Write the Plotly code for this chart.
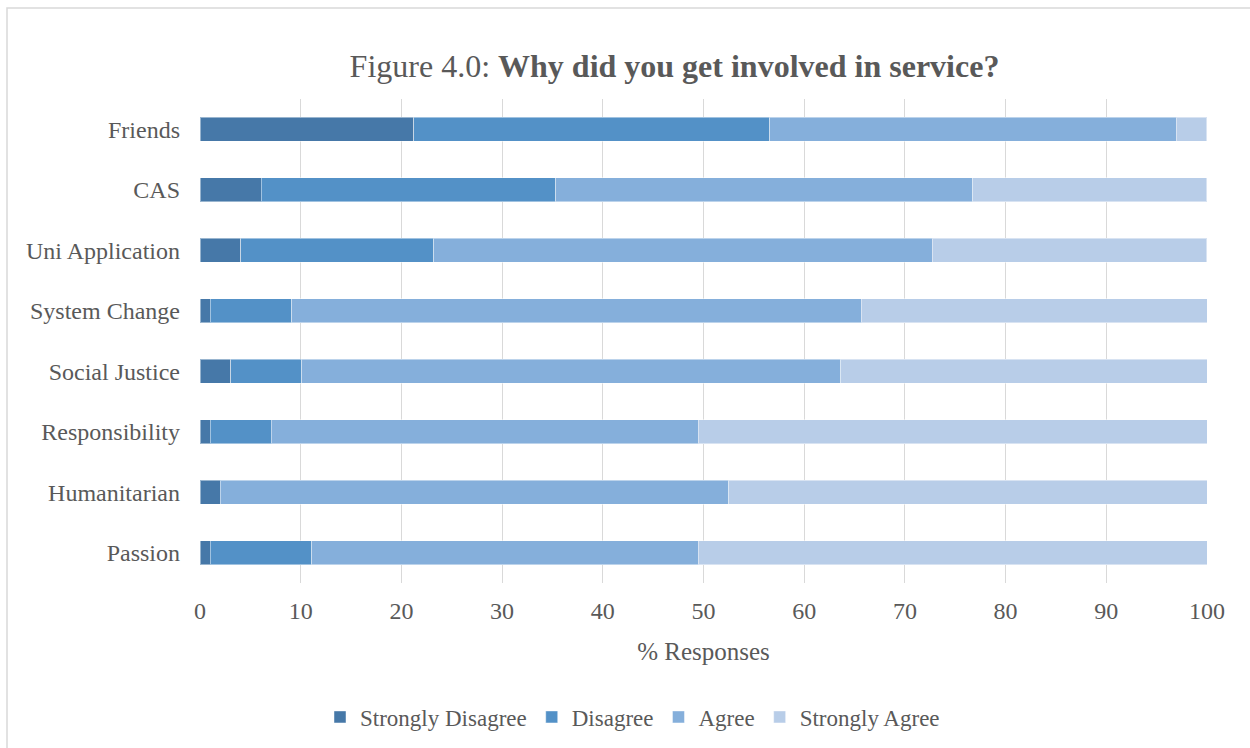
import plotly.graph_objects as go

# Survey reasons, listed top to bottom as drawn
categories = ["Friends", "CAS", "Uni Application", "System Change",
              "Social Justice", "Responsibility", "Humanitarian", "Passion"]

# Percentage of responses per answer level
strongly_disagree = [21.21, 6.06, 4.04, 1.01, 3.03, 1.01, 2.02, 1.01]
disagree = [35.35, 29.29, 19.19, 8.08, 7.07, 6.06, 0.00, 10.10]
agree = [40.40, 41.41, 49.49, 56.57, 53.54, 42.42, 50.51, 38.38]
strongly_agree = [3.03, 23.23, 27.27, 34.34, 36.36, 50.51, 47.47, 50.51]

series_names = ["Strongly Disagree", "Disagree", "Agree", "Strongly Agree"]
series_values = [strongly_disagree, disagree, agree, strongly_agree]
series_colors = ["#4678A8", "#5391C7", "#85AFDB", "#B8CDE8"]

x_ticks = [0, 10, 20, 30, 40, 50, 60, 70, 80, 90, 100]

FONT = "Liberation Serif, Times New Roman, serif"
TEXT = "#595959"
GRID = "#D9D9D9"

W, H = 1250, 748
L, R, T, B = 200, 43, 99, 165

fig = go.Figure()
for name, vals, col in zip(series_names, series_values, series_colors):
    fig.add_trace(go.Bar(
        y=categories, x=vals, name=name, orientation="h",
        marker=dict(color=col, line=dict(color="rgba(255,255,255,0.45)", width=1)),
    ))

pw, ph = W - L - R, H - T - B
# outer chart-area frame (runs off the right and bottom edges)
fig.add_shape(type="rect", xref="paper", yref="paper",
              x0=(7 - L) / pw, x1=(W + 12 - L) / pw,
              y0=(H - (H + 12) - B) / ph, y1=(H - 8 - B) / ph,
              line=dict(color=GRID, width=1.5), fillcolor="rgba(0,0,0,0)",
              layer="below")

fig.update_layout(
    width=W, height=H,
    margin=dict(l=L, r=R, t=T, b=B),
    paper_bgcolor="white", plot_bgcolor="white",
    barmode="stack", bargap=0.6,
    font=dict(family=FONT, color=TEXT, size=24),
    title=dict(
        text="Figure 4.0: <b>Why did you get involved in service?</b>",
        font=dict(family=FONT, size=32, color=TEXT),
        xref="container", x=674.5 / W, xanchor="center",
        yref="container", y=1 - 66 / H, yanchor="middle",
    ),
    xaxis=dict(
        range=[0, 100], tickvals=x_ticks, showgrid=True, gridcolor=GRID,
        gridwidth=1.3, zeroline=False, showline=False, ticks="",
        tickfont=dict(size=24, color=TEXT), ticklabelstandoff=11,
        title=dict(text="% Responses", font=dict(size=25, color=TEXT), standoff=19),
        fixedrange=True,
    ),
    yaxis=dict(
        autorange="reversed", showgrid=False, zeroline=False, showline=False,
        ticks="", tickfont=dict(size=24, color=TEXT), ticklabelstandoff=19,
        fixedrange=True,
    ),
    legend=dict(
        orientation="h", xref="container", x=0.506, xanchor="center",
        yref="container", y=1 - 717 / H, yanchor="middle",
        font=dict(size=23, color=TEXT), traceorder="normal",
        itemwidth=30,
    ),
    showlegend=True,
)

fig.write_html("out.html")
